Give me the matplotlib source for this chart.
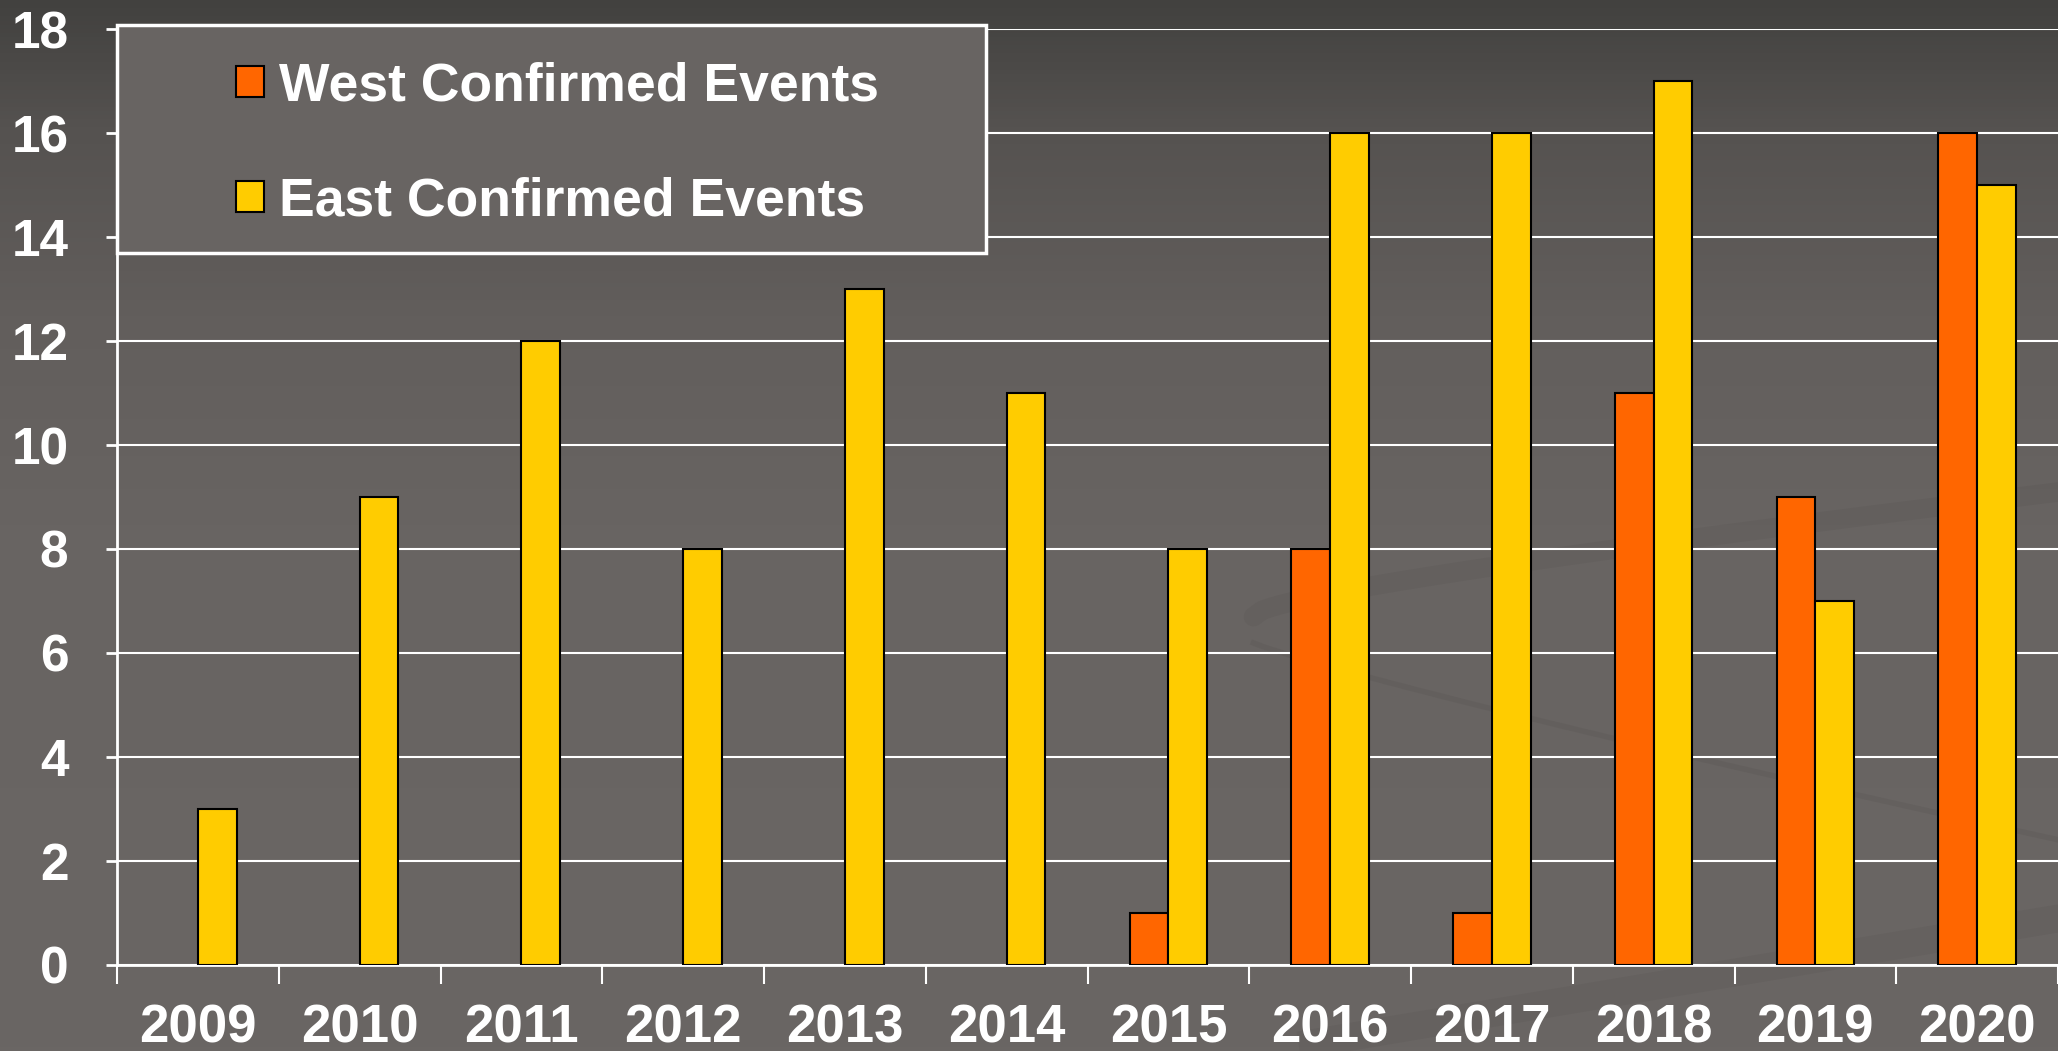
import numpy as np
import matplotlib
matplotlib.use("Agg")
import matplotlib.pyplot as plt
from matplotlib.patches import Rectangle
from matplotlib.colors import LinearSegmentedColormap

plt.rcParams['font.family'] = ['Liberation Sans', 'DejaVu Sans']
plt.rcParams['font.weight'] = 'bold'

years = ["2009", "2010", "2011", "2012", "2013", "2014",
         "2015", "2016", "2017", "2018", "2019", "2020"]
west = [0, 0, 0, 0, 0, 0, 1, 8, 1, 11, 9, 16]
east = [3, 9, 12, 8, 13, 11, 8, 16, 16, 17, 7, 15]

west_col = "#FF6600"
east_col = "#FFCC00"

fig = plt.figure(figsize=(20.58, 10.51), dpi=100)

# gradient background, dark at the top
bg = fig.add_axes([0, 0, 1, 1], zorder=-10)
cmap = LinearSegmentedColormap.from_list(
    "bg", [(0, "#42413f"), (0.12, "#555250"), (0.3, "#625e5c"),
           (0.5, "#686462"), (1, "#6a6664")])
grad = np.linspace(0, 1, 256).reshape(-1, 1)
bg.imshow(grad, aspect="auto", cmap=cmap, extent=[0, 1, 0, 1], origin="upper")
# faint swirl in the lower right
t = np.linspace(0, 1, 100)
sx = 955/1568 + t * (1 - 955/1568)
bg.plot(sx, 1 - (470 - 40*np.sqrt(t) - 55*t)/801, color="#4a4644", lw=14,
        alpha=0.13, solid_capstyle="round")
bg.plot(sx, 1 - (490 + 150*t**0.9)/801, color="#4a4644", lw=4, alpha=0.15)
bg.plot(1000/1568 + t*(1 - 1000/1568), 1 - (795 - 95*t)/801, color="#4a4644",
        lw=20, alpha=0.12)
bg.set_xlim(0, 1)
bg.set_ylim(0, 1)
bg.axis("off")

ax = fig.add_axes([117/2058, 86/1051, 1 - 117/2058, (965-29)/1051])
ax.set_facecolor("none")

x = np.arange(len(years))
w = 0.24
wi = [i for i in x if west[i] > 0]
ax.bar(np.array(wi) - w/2, [west[i] for i in wi], w, color=west_col,
       edgecolor="black", linewidth=1.5, label="West Confirmed Events", zorder=3)
ax.bar(x + w/2, east, w, color=east_col, edgecolor="black", linewidth=1.5,
       label="East Confirmed Events", zorder=3)

ax.set_xlim(-0.5, len(years) - 0.5)
ax.set_ylim(0, 18)
ax.set_yticks(range(0, 19, 2))
ax.yaxis.grid(True, color="white", linewidth=1.5, zorder=0)
ax.set_axisbelow(True)

ax.set_xticks(np.arange(-0.5, len(years), 1))
ax.set_xticklabels([])
ax.set_xticks(x, minor=True)
ax.set_xticklabels(years, minor=True, fontsize=38, color="white", fontweight="bold")
ax.tick_params(axis="x", which="minor", length=0, pad=28)
ax.tick_params(axis="x", which="major", length=14, width=1.5, color="white", direction="out")
ax.tick_params(axis="y", length=8, width=2, color="white", labelsize=37,
               labelcolor="white", pad=27)
for lab in ax.get_yticklabels():
    lab.set_fontweight("bold")

for s in ["top", "right"]:
    ax.spines[s].set_visible(False)
for s in ["left", "bottom"]:
    ax.spines[s].set_color("white")
    ax.spines[s].set_linewidth(2)

# legend box
box = Rectangle((117/2058, 1 - 253/1051), (986-117)/2058, (253-25)/1051,
                transform=fig.transFigure, facecolor="#686462",
                edgecolor="white", linewidth=2.5, zorder=5, clip_on=False)
ax.add_patch(box)
leg = ax.legend(loc="center", bbox_to_anchor=((117+986)/2/2058 + 0.003, 1 - 144/1051),
                bbox_transform=fig.transFigure, frameon=False, fontsize=38.5,
                handlelength=0.52, handleheight=0.52, handletextpad=0.28,
                labelspacing=1.22, borderpad=0)
for t in leg.get_texts():
    t.set_color("white")
    t.set_fontweight("bold")
leg.set_zorder(6)

fig.savefig("out.png", dpi=100)
